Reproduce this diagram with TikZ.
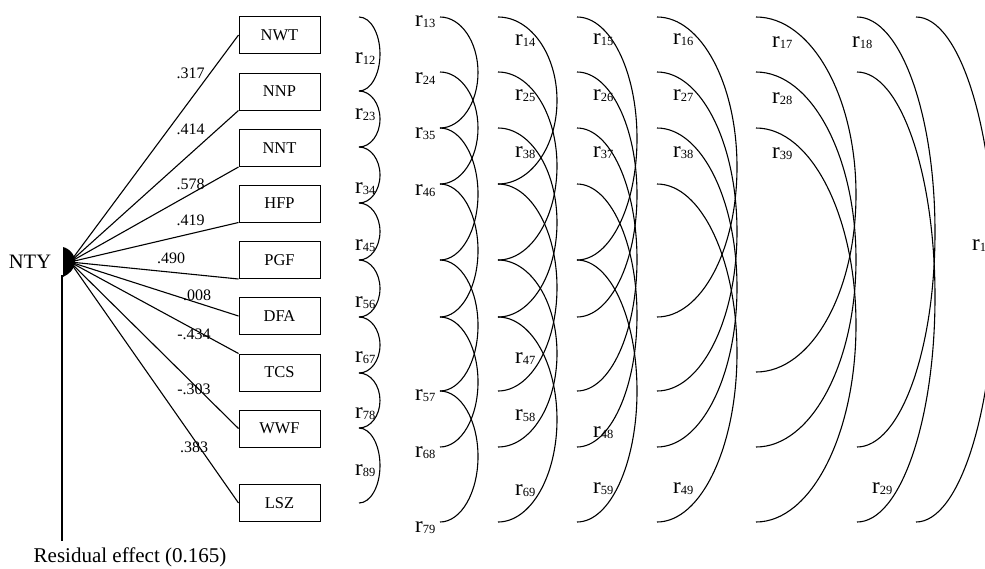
\documentclass[tikz,border=0pt]{standalone}
\usepackage{fontspec}
\setmainfont{Liberation Serif}
\newcommand{\rlab}[1]{{\fontsize{23}{23}\selectfont r}\raisebox{-1.5pt}{\fontsize{12.5}{12.5}\selectfont #1}}
\begin{document}
\begin{tikzpicture}[x=1pt,y=-1pt,
  box/.style={draw,line width=1pt,minimum width=81pt,minimum height=37pt,inner sep=0pt,font=\fontsize{16.5}{16.5}\selectfont},
  coef/.style={inner sep=0pt,font=\fontsize{16}{16}\selectfont},
  rl/.style={anchor=base west,inner sep=0pt},
  path/.style={line width=1.1pt},
  corr/.style={line width=1.1pt}]
\useasboundingbox (0,0) rectangle (985,568);
\fill[white] (0,0) rectangle (985,568);

% central variable
\node[inner sep=0pt,font=\fontsize{20.5}{20.5}\selectfont] (nty) at (30,262) {NTY};
\coordinate (hub) at (70,262);
\fill (63,247) .. controls (71,249) and (76,257) .. (75,263) .. controls (74,270) and (69,274) .. (63,277) -- cycle;
\coordinate (rtop) at (62,275);
\coordinate (rbot) at (62,541);
\draw[path] (rtop) -- (rbot);
\node[inner sep=0pt,font=\fontsize{21}{21}\selectfont,anchor=north] (res) at (130,548) {Residual effect (0.165)};

% boxes
\node[box] (nwt) at (279.5,35) {NWT};
\node[box] (nnp) at (279.5,91.5) {NNP};
\node[box] (nnt) at (279.5,148) {NNT};
\node[box] (hfp) at (279.5,203.5) {HFP};
\node[box] (pgf) at (279.5,260) {PGF};
\node[box] (dfa) at (279.5,316) {DFA};
\node[box] (tcs) at (279.5,372.5) {TCS};
\node[box] (wwf) at (279.5,428.5) {WWF};
\node[box] (lsz) at (279.5,503) {LSZ};

% paths
\draw[path] (hub) -- (nwt.west);
\draw[path] (hub) -- (nnp.south west);
\draw[path] (hub) -- (nnt.south west);
\draw[path] (hub) -- (hfp.south west);
\draw[path] (hub) -- (pgf.south west);
\draw[path] (hub) -- (dfa.west);
\draw[path] (hub) -- (tcs.north west);
\draw[path] (hub) -- (wwf.west);
\draw[path] (hub) -- (lsz.west);

% coefficients
\node[coef] (c1) at (190.5,73) {.317};
\node[coef] (c2) at (190.5,129) {.414};
\node[coef] (c3) at (190.5,184) {.578};
\node[coef] (c4) at (190.5,220) {.419};
\node[coef] (c5) at (171,258) {.490};
\node[coef] (c6) at (197,295) {.008};
\node[coef] (c7) at (194,334) {-.434};
\node[coef] (c8) at (194,389) {-.303};
\node[coef] (c9) at (194,447) {.383};

% correlation arcs
\begin{scope}
\clip (0,0) rectangle (985,568);
\foreach \x/\w/\a/\b in {
  359/21/17/91, 359/21/91/147, 359/21/147/203, 359/21/203/260, 359/21/260/317, 359/21/317/373, 359/21/373/428, 359/21/428/503,
  440/38/17/128, 440/38/72/184, 440/38/128/260, 440/38/184/317, 440/38/260/391, 440/38/317/447, 440/38/391/522,
  498/59/17/184, 498/59/72/260, 498/59/128/317, 498/59/184/391, 498/59/260/447, 498/59/317/522,
  577/60/17/260, 577/60/72/317, 577/60/128/391, 577/60/184/447, 577/60/260/522,
  657/80/17/317, 657/80/72/391, 657/80/128/447, 657/80/184/522,
  756/100/17/372, 756/100/72/447, 756/100/128/522,
  857/78/17/447, 857/78/72/522,
  916/79/17/522}
  \draw[corr] (\x,\a) arc[start angle=-90,end angle=90,x radius=\w,y radius={(\b-\a)/2}];
\end{scope}

% correlation labels
\node[rl] (r12) at (355,63) {\rlab{12}};
\node[rl] (r23) at (355,119) {\rlab{23}};
\node[rl] (r34) at (355,193) {\rlab{34}};
\node[rl] (r45) at (355,250) {\rlab{45}};
\node[rl] (r56) at (355,307) {\rlab{56}};
\node[rl] (r67) at (355,362) {\rlab{67}};
\node[rl] (r78) at (355,418) {\rlab{78}};
\node[rl] (r89) at (355,475) {\rlab{89}};

\node[rl] (r13) at (415,26) {\rlab{13}};
\node[rl] (r24) at (415,83) {\rlab{24}};
\node[rl] (r35) at (415,138) {\rlab{35}};
\node[rl] (r46) at (415,195) {\rlab{46}};
\node[rl] (r57) at (415,400) {\rlab{57}};
\node[rl] (r68) at (415,457) {\rlab{68}};
\node[rl] (r79) at (415,532) {\rlab{79}};

\node[rl] (r14) at (515,45) {\rlab{14}};
\node[rl] (r25) at (515,100) {\rlab{25}};
\node[rl] (r38a) at (515,157) {\rlab{38}};
\node[rl] (r47) at (515,363) {\rlab{47}};
\node[rl] (r58) at (515,420) {\rlab{58}};
\node[rl] (r69) at (515,495) {\rlab{69}};

\node[rl] (r15) at (593,44) {\rlab{15}};
\node[rl] (r26) at (593,100) {\rlab{26}};
\node[rl] (r37) at (593,157) {\rlab{37}};
\node[rl] (r48) at (593,437) {\rlab{48}};
\node[rl] (r59) at (593,493) {\rlab{59}};

\node[rl] (r16) at (673,44) {\rlab{16}};
\node[rl] (r27) at (673,100) {\rlab{27}};
\node[rl] (r38b) at (673,157) {\rlab{38}};
\node[rl] (r49) at (673,493) {\rlab{49}};

\node[rl] (r17) at (772,47) {\rlab{17}};
\node[rl] (r28) at (772,103) {\rlab{28}};
\node[rl] (r39) at (772,158) {\rlab{39}};

\node[rl] (r18) at (852,47) {\rlab{18}};
\node[rl] (r29) at (872,493) {\rlab{29}};

\node[rl] (r1) at (972,250) {\rlab{1}};
\end{tikzpicture}
\end{document}
